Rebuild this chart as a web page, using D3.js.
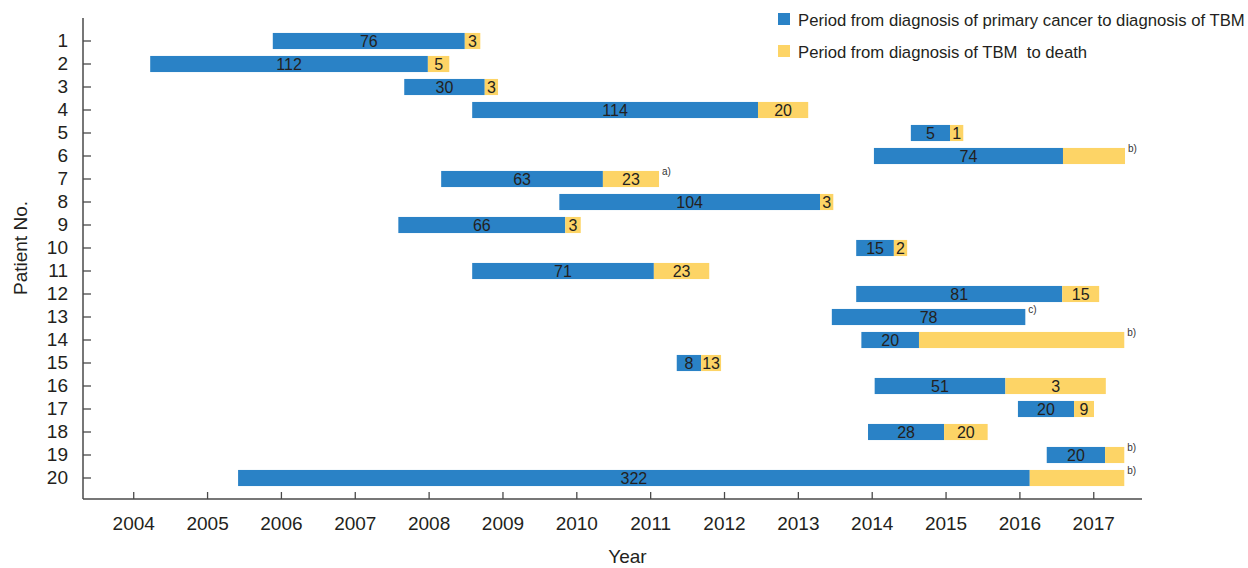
<!DOCTYPE html>
<html>
<head>
<meta charset="utf-8">
<script src="https://cdn.jsdelivr.net/npm/d3@7"></script>
<style>
  html, body { margin: 0; padding: 0; background: #fff; }
  svg { display: block; font-family: "Liberation Sans", Arial, Helvetica, sans-serif; }
</style>
</head>
<body>
<svg id="chart" width="1248" height="568"></svg>
<script>
// ---- Data (years as fractional calendar years) ----
const patients = d3.range(1, 21).map(String);
const startYear = [2005.89, 2004.23, 2007.67, 2008.59, 2014.53, 2014.03, 2008.17, 2009.77, 2007.59, 2013.79,
                   2008.59, 2013.79, 2013.46, 2013.86, 2011.36, 2014.04, 2015.98, 2013.95, 2016.37, 2005.42];
const tbmYear   = [2008.49, 2007.99, 2008.76, 2012.46, 2015.06, 2016.59, 2010.36, 2013.30, 2009.85, 2014.30,
                   2011.05, 2016.58, 2016.08, 2014.64, 2011.69, 2015.81, 2016.74, 2014.98, 2017.16, 2016.14];
const deathYear = [2008.70, 2008.28, 2008.94, 2013.14, 2015.24, 2017.43, 2011.12, 2013.48, 2010.06, 2014.48,
                   2011.80, 2017.08, 2016.08, 2017.42, 2011.96, 2017.17, 2017.01, 2015.57, 2017.42, 2017.42];
const blueLabels   = ["76","112","30","114","5","74","63","104","66","15","71","81","78","20","8","51","20","28","20","322"];
const yellowLabels = ["3","5","3","20","1","","23","3","3","2","23","15","","","13","3","9","20","",""];
const notes        = ["","","","","","b)","a)","","","","","","c)","b)","","","","","b)","b)"];
const yearTicks = d3.range(2004, 2018);
const legendLabels = ["Period from diagnosis of primary cancer to diagnosis of TBM",
                      "Period from diagnosis of TBM  to death"];
const colors = ["#2a82c6", "#fdd466"];

// ---- Layout ----
const svg = d3.select("#chart");
const axisX0 = 83, axisX1 = 1142, axisY = 499, axisTop = 18;
const textColor = "#231f20";
const axisColor = "#4a4a4a";

const x = d3.scaleLinear().domain([2003.32, 2017.66]).range([axisX0, axisX1]);
const y = d3.scaleBand().domain(patients).range([29.5, 489.5]).paddingInner(0.3).paddingOuter(0.15);

const rows = patients.map((p, i) => ({
  p, s: startYear[i], t: tbmYear[i], d: deathYear[i],
  bl: blueLabels[i], yl: yellowLabels[i], note: notes[i]
}));

// bars
const g = svg.append("g");
g.selectAll("rect.blue").data(rows).join("rect")
  .attr("class", "blue")
  .attr("x", d => x(d.s)).attr("y", d => y(d.p))
  .attr("width", d => x(d.t) - x(d.s)).attr("height", y.bandwidth())
  .attr("fill", colors[0]);
g.selectAll("rect.yellow").data(rows.filter(d => d.d > d.t)).join("rect")
  .attr("class", "yellow")
  .attr("x", d => x(d.t)).attr("y", d => y(d.p))
  .attr("width", d => x(d.d) - x(d.t)).attr("height", y.bandwidth())
  .attr("fill", colors[1]);

// bar labels
g.selectAll("text.bl").data(rows).join("text")
  .attr("class", "bl")
  .attr("x", d => (x(d.s) + x(d.t)) / 2)
  .attr("y", d => y(d.p) + y.bandwidth() / 2)
  .attr("dy", "0.36em")
  .attr("text-anchor", "middle")
  .attr("font-size", 16).attr("fill", textColor)
  .text(d => d.bl);
g.selectAll("text.yl").data(rows.filter(d => d.yl)).join("text")
  .attr("class", "yl")
  .attr("x", d => (x(d.t) + x(d.d)) / 2)
  .attr("y", d => y(d.p) + y.bandwidth() / 2)
  .attr("dy", "0.36em")
  .attr("text-anchor", "middle")
  .attr("font-size", 16).attr("fill", textColor)
  .text(d => d.yl);
// footnote marks
g.selectAll("text.note").data(rows.filter(d => d.note)).join("text")
  .attr("class", "note")
  .attr("x", d => x(Math.max(d.t, d.d)) + 3)
  .attr("y", d => y(d.p) + 4)
  .attr("font-size", 10).attr("fill", "#333")
  .text(d => d.note);

// axes
const xAxis = d3.axisBottom(x).tickValues(yearTicks).tickFormat(d3.format("d"))
  .tickSizeInner(-7).tickSizeOuter(0).tickPadding(18);
const gx = svg.append("g").attr("transform", `translate(0,${axisY})`).call(xAxis);
gx.select(".domain").remove();
gx.selectAll(".tick line").attr("stroke", axisColor).attr("stroke-width", 1.3);
gx.selectAll(".tick text").attr("font-size", 19).attr("fill", textColor)
  .attr("font-family", "'Liberation Sans', Arial, sans-serif");

const yAxis = d3.axisLeft(y).tickSizeInner(-8).tickSizeOuter(0).tickPadding(15);
const gy = svg.append("g").attr("transform", `translate(${axisX0},0)`).call(yAxis);
gy.select(".domain").remove();
gy.selectAll(".tick line").attr("stroke", axisColor).attr("stroke-width", 1.3);
gy.selectAll(".tick text").attr("font-size", 19).attr("fill", textColor)
  .attr("font-family", "'Liberation Sans', Arial, sans-serif");

// axis lines
svg.append("line").attr("x1", axisX0).attr("x2", axisX0).attr("y1", axisTop).attr("y2", axisY)
  .attr("stroke", axisColor).attr("stroke-width", 1.5);
svg.append("line").attr("x1", axisX0).attr("x2", axisX1).attr("y1", axisY).attr("y2", axisY)
  .attr("stroke", axisColor).attr("stroke-width", 1.5);

// axis titles
svg.append("text").attr("x", (axisX0 + axisX1) / 2 + 15).attr("y", 563)
  .attr("text-anchor", "middle").attr("font-size", 19).attr("fill", textColor).text("Year");
svg.append("text").attr("transform", "translate(27,248) rotate(-90)")
  .attr("text-anchor", "middle").attr("font-size", 19).attr("fill", textColor).text("Patient No.");

// legend
const lg = svg.append("g");
legendLabels.forEach((lab, i) => {
  const ly = 13 + i * 32;
  lg.append("rect").attr("x", 778).attr("y", ly).attr("width", 12).attr("height", 12).attr("fill", colors[i]);
  lg.append("text").attr("x", 798).attr("y", ly + 13).attr("font-size", 16.7).attr("fill", textColor)
    .style("white-space", "pre").text(lab);
});
</script>
</body>
</html>
